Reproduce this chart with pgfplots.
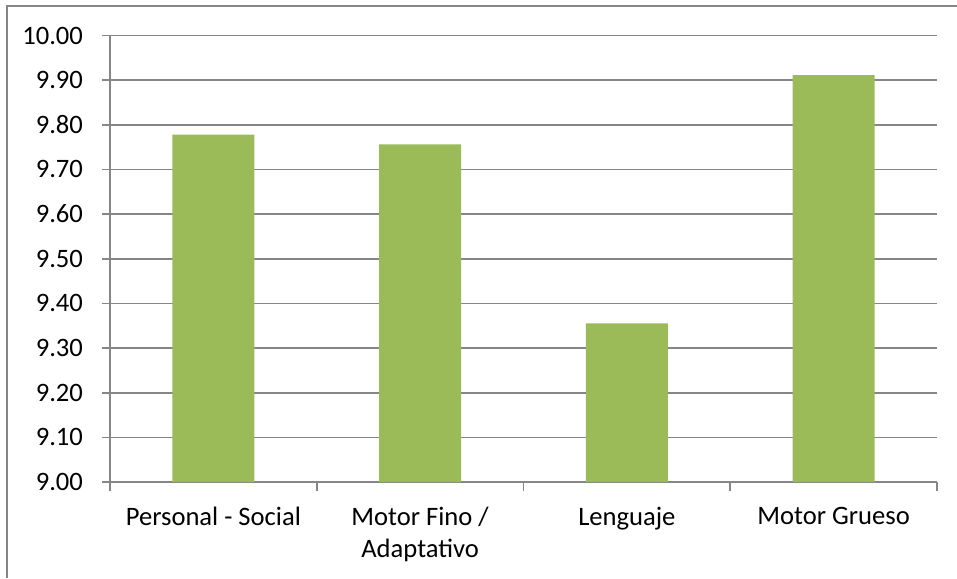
\documentclass[border=0pt]{standalone}
\usepackage{fontspec}
\setmainfont{Carlito}
\usepackage{pgfplots}
\pgfplotsset{compat=1.18}
\definecolor{bargreen}{HTML}{9BBB59}
\definecolor{linegray}{HTML}{868686}

\begin{document}
\begin{tikzpicture}
\useasboundingbox (0,0) rectangle (478.5pt,289pt);
% chart area frame
\draw[linegray, line width=0.8pt] (3.5pt,0pt) -- (3.5pt,286pt) -- (478.5pt,286pt);
\begin{axis}[
  at={(55pt,48pt)}, anchor=south west,
  scale only axis, width=413.5pt, height=223.25pt,
  xmin=-0.5, xmax=3.5, ymin=9, ymax=10,
  axis x line*=bottom, axis y line*=left,
  axis line style={linegray, line width=0.8pt, -},
  ytick={9,9.1,9.2,9.3,9.4,9.5,9.6,9.7,9.8,9.9,10},
  ymajorgrids, grid style={linegray, line width=0.8pt},
  xtick={0,1,2,3},
  xticklabels={Personal - Social, {Motor Fino /\\Adaptativo}, Lenguaje, Motor Grueso},
  minor xtick={-0.5,0.5,1.5,2.5,3.5},
  tick align=outside,
  major tick length=4pt, minor tick length=4.5pt,
  major x tick style={draw=none},
  minor x tick style={linegray, line width=0.8pt},
  major y tick style={linegray, line width=0.8pt},
  /pgf/number format/assume math mode=true,
  yticklabel={\pgfmathprintnumber[fixed, fixed zerofill, precision=2]{\tick}},
  ticklabel style={font=\fontsize{13.3}{16}\selectfont, text=black},
  yticklabel style={xshift=-6pt},
  xticklabel style={align=center, yshift=-5pt},
]
\addplot[ybar, fill=bargreen, draw=none, bar width=41pt]
  coordinates {(0,9.778) (1,9.756) (2,9.355) (3,9.911)};
\end{axis}
\end{tikzpicture}
\end{document}
